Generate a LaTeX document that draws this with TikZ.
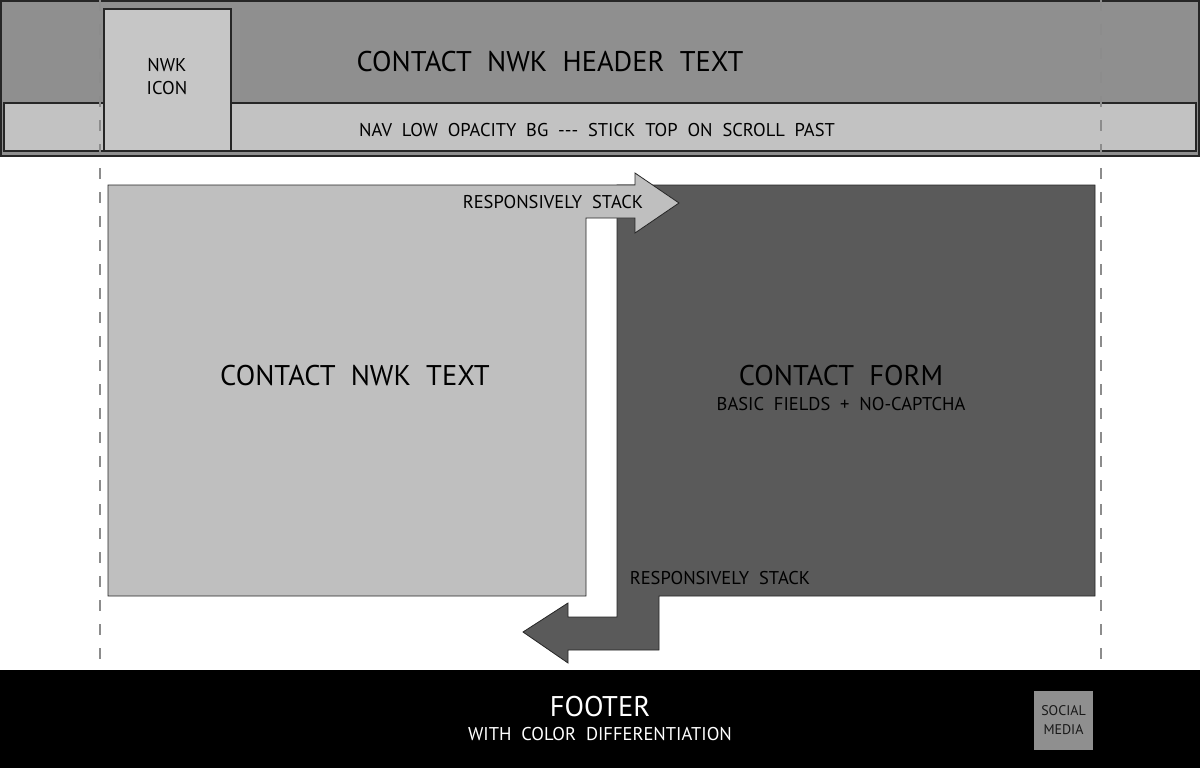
\documentclass[tikz,border=0pt]{standalone}
\usepackage{fontspec}
\setmainfont{PT Sans}
\definecolor{headgray}{HTML}{8F8F8F}
\definecolor{navgray}{HTML}{C2C2C2}
\definecolor{icongray}{HTML}{C6C6C6}
\definecolor{textgray}{HTML}{BFBFBF}
\definecolor{formgray}{HTML}{5A5A5A}
\definecolor{guidegray}{HTML}{8C8C8C}
\begin{document}
\begin{tikzpicture}[x=1pt,y=-1pt,
    edge/.style = {draw=black!85,line width=1.2pt},
    guide/.style = {guidegray,line width=2pt,dash pattern=on 11pt off 13pt},
    big/.style = {font=\fontsize{28.5}{31}\selectfont,text=black},
    small/.style = {font=\fontsize{18.5}{23}\selectfont,text=black,align=center}]
    \useasboundingbox (0,0) rectangle (1200,768);

    % header band with nav strip and icon
    \filldraw[edge,fill=headgray,line width=1.6pt] (1,1) rectangle (1199,156);
    \filldraw[edge,fill=navgray,line width=1.6pt] (4,103) rectangle (1196,151);
    \filldraw[edge,fill=icongray] (104,9) rectangle (231,151);
    \node[small] (icon) at (167,77) {NWK\\ICON};
    \node[big] (headtext) at (550,62) {CONTACT\ \ NWK\ \ HEADER\ \ TEXT};
    \node[small] (nav) at (597,130) {NAV\ \ LOW\ \ OPACITY\ \ BG\ \ -{}-{}-\ \ STICK\ \ TOP\ \ ON\ \ SCROLL\ \ PAST};

    % page guides
    \draw[guide] (100,0) -- (100,670);
    \draw[guide] (1101,0) -- (1101,670);

    % contact form block with the arrow going down
    \filldraw[edge,line width=0.8pt,fill=formgray] (617,185) -- (1095,185) -- (1095,596) -- (659,596)
        -- (659,650) -- (568,650) -- (568,663) -- (523,632) -- (568,603) -- (568,617)
        -- (617,617) -- cycle;
    % contact text block with the arrow going right
    \filldraw[edge,line width=0.8pt,fill=textgray] (108,185) -- (635,185) -- (635,173) -- (679,203)
        -- (635,233) -- (635,218) -- (586,218) -- (586,596) -- (108,596) -- cycle;

    \node[small] (stacktop) at (553,202) {RESPONSIVELY\ \ STACK};
    \node[small] (stackbot) at (720,578) {RESPONSIVELY\ \ STACK};
    \node[big] (nwktext) at (355,376) {CONTACT\ \ NWK\ \ TEXT};
    \node[big] (formtext) at (841,376) {CONTACT\ \ FORM};
    \node[small] (fields) at (841,404) {BASIC\ \ FIELDS\ \ +\ \ NO-CAPTCHA};

    % footer
    \fill[black] (0,670) rectangle (1200,768);
    \node[big,text=white] (footer) at (600,707) {FOOTER};
    \node[small,text=white] (footsub) at (600,734) {WITH\ \ COLOR\ \ DIFFERENTIATION};
    \node[fill=headgray,minimum width=59pt,minimum height=59pt,inner sep=0,
        font=\fontsize{14}{19}\selectfont,align=center,text=black!90] (social) at (1063.5,720.5) {SOCIAL\\MEDIA};
\end{tikzpicture}
\end{document}
